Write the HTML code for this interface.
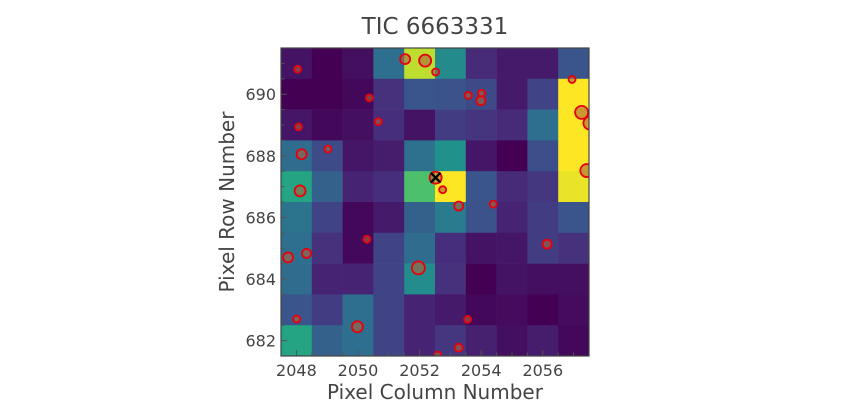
<!DOCTYPE html>
<html><head><meta charset="utf-8"><style>
html,body{margin:0;padding:0;background:#fff;}
svg{display:block;font-family:"DejaVu Sans","Liberation Sans",sans-serif;}
</style></head><body>
<svg id="chart" width="848" height="400" viewBox="0 0 848 400">
<text x="435" y="34" text-anchor="middle" font-size="23" fill="#444">TIC 6663331</text>
<g id="cells"></g>
<g id="stars"></g>
<g id="axes"></g>
<text x="435" y="399" text-anchor="middle" font-size="20" fill="#444">Pixel Column Number</text>
<text transform="translate(234,202) rotate(-90)" text-anchor="middle" font-size="20" fill="#444">Pixel Row Number</text>
</svg>
<script>
const columns=[2048,2049,2050,2051,2052,2053,2054,2055,2056,2057];
const rows=[691,690,689,688,687,686,685,684,683,682];
const flux=[
[0.05,0.0,0.04,0.36,0.9,0.47,0.12,0.07,0.07,0.26],
[0.0,0.0,0.02,0.14,0.26,0.25,0.22,0.07,0.2,1],
[0.06,0.02,0.04,0.13,0.05,0.18,0.15,0.12,0.36,1],
[0.35,0.23,0.06,0.08,0.37,0.5,0.06,0.0,0.24,1],
[0.58,0.31,0.1,0.13,0.71,1,0.26,0.12,0.16,0.97],
[0.38,0.2,0.02,0.07,0.31,0.41,0.25,0.1,0.18,0.26],
[0.36,0.14,0.02,0.2,0.35,0.13,0.05,0.06,0.18,0.14],
[0.35,0.1,0.1,0.2,0.48,0.14,0.0,0.05,0.04,0.04],
[0.26,0.18,0.36,0.2,0.1,0.07,0.02,0.03,0.0,0.03],
[0.58,0.31,0.36,0.2,0.1,0.16,0.09,0.04,0.08,0.02]];
const starX=[2048.04,2051.53,2052.18,2052.52,2050.37,2053.58,2054.01,2053.99,2056.95,2048.07,2050.66,2057.26,2057.53,2048.17,2049.02,2057.43,2048.12,2052.75,2053.27,2054.39,2050.29,2047.73,2048.33,2056.14,2051.96,2048.01,2049.98,2053.56,2053.27,2052.59];
const starY=[690.81,691.14,691.09,690.72,689.88,689.96,690.03,689.79,690.48,688.94,689.11,689.41,689.06,688.05,688.22,687.52,686.86,686.9,686.37,686.43,685.29,684.7,684.83,685.13,684.36,682.70,682.45,682.69,681.77,681.53];
const starR=[3.5,5,6,3.5,3.5,3.5,3.5,4.5,3.5,3.5,3.5,6.5,6.5,5,3.5,6.5,5.5,3.5,4.5,3.5,3.5,5,4.5,4.5,6.5,3.5,5.5,3.5,4,3.5];
const targetX=2052.52, targetY=687.29;
const xTicks=[2048,2050,2052,2054,2056];
const yTicks=[682,684,686,688,690];

const X0=281,X1=589,Y0=48,Y1=356,xmin=2047.5,xmax=2057.5,ymin=681.5,ymax=691.5;
const sx=v=>X0+(v-xmin)/(xmax-xmin)*(X1-X0);
const sy=v=>Y1-(v-ymin)/(ymax-ymin)*(Y1-Y0);
const stops=["#440154","#472d7b","#3b528b","#2c728e","#21918c","#28ae80","#5ec962","#addc30","#fde725"];
function hex(h){return [1,3,5].map(i=>parseInt(h.substr(i,2),16));}
function viridis(t){t=Math.max(0,Math.min(1,t));const p=t*8,i=Math.min(7,Math.floor(p)),f=p-i;const a=hex(stops[i]),b=hex(stops[i+1]);return "rgb("+a.map((v,k)=>Math.round(v+(b[k]-v)*f)).join(",")+")";}
const NS="http://www.w3.org/2000/svg";
function mk(tag,attrs,parent){const e=document.createElementNS(NS,tag);for(const k in attrs)e.setAttribute(k,attrs[k]);parent.appendChild(e);return e;}
const cells=document.getElementById('cells');
rows.forEach((r,i)=>columns.forEach((c,j)=>{
  const x=sx(c-0.5),y=sy(r+0.5);
  const e=mk('rect',{x:x,y:y,width:sx(c+0.5)-x+0.3,height:sy(r-0.5)-y+0.3,fill:viridis(flux[i][j])},cells);
  
  
}));
const stars=document.getElementById('stars');
const clip=mk('clipPath',{id:'pc'},mk('defs',{},document.getElementById('chart')));
mk('rect',{x:X0,y:Y0,width:X1-X0,height:Y1-Y0},clip);
stars.setAttribute('clip-path','url(#pc)');
starX.forEach((v,i)=>{
  const e=mk('circle',{cx:sx(v),cy:sy(starY[i]),r:starR[i],fill:'rgba(170,100,60,0.6)',stroke:'#e8000b','stroke-width':1.8},stars);
  
  
});
const tx=sx(targetX),ty=sy(targetY);
const tc=mk('circle',{cx:tx,cy:ty,r:6,fill:'rgba(170,100,60,0.6)',stroke:'#e8000b','stroke-width':1.8},stars);


const tm=mk('path',{d:`M${tx-5},${ty-5}L${tx+5},${ty+5}M${tx+5},${ty-5}L${tx-5},${ty+5}`,stroke:'#000','stroke-width':2.2},stars);


const axes=document.getElementById('axes');
for(let v=2047.5;v<=2057.5;v+=0.5){const x=sx(v);const maj=xTicks.includes(v);mk('line',{x1:x,x2:x,y1:Y1,y2:Y1-(maj?6:3.5),stroke:'#555','stroke-width':1},axes);}
for(let v=681.5;v<=691.5;v+=0.5){const y=sy(v);const maj=yTicks.includes(v);mk('line',{x1:X0,x2:X0+(maj?6:3.5),y1:y,y2:y,stroke:'#555','stroke-width':1},axes);}
xTicks.forEach(v=>{const t=mk('text',{x:sx(v),y:Y1+20,'text-anchor':'middle','font-size':16,fill:'#444'},axes);t.textContent=v;

});
yTicks.forEach(v=>{const t=mk('text',{x:X0-5,y:sy(v)+6,'text-anchor':'end','font-size':16,fill:'#444'},axes);t.textContent=v;

});
const fr=mk('rect',{x:X0,y:Y0,width:X1-X0,height:Y1-Y0,fill:'none',stroke:'#444','stroke-width':1.2},axes);


</script>
</body></html>
